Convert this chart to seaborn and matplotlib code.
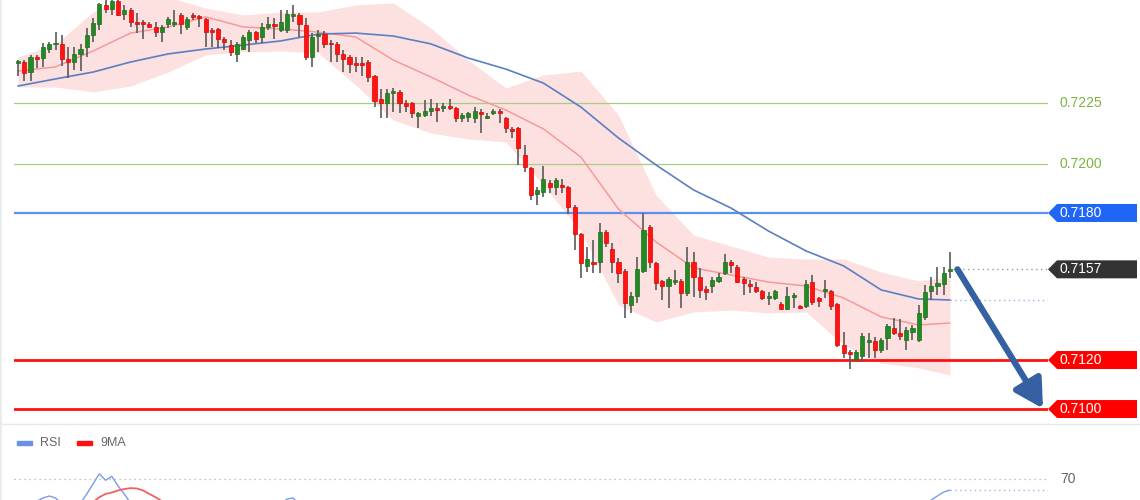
import matplotlib
matplotlib.use("Agg")
import matplotlib.pyplot as plt
import matplotlib.transforms as mtransforms
from matplotlib.patches import Polygon, Rectangle
from matplotlib.lines import Line2D
import seaborn as sns

# ---------------- candles (oldest first) ----------------
opens = [0.72412, 0.72416, 0.72375, 0.72436, 0.72432, 0.72469, 0.72489, 0.72489, 0.72428, 0.72416,
         0.72449, 0.72477, 0.72526, 0.72571, 0.72649, 0.72632, 0.72665, 0.72612, 0.72628, 0.72579,
         0.72579, 0.72571, 0.72559, 0.72538, 0.72571, 0.72571, 0.72608, 0.72559, 0.72608, 0.72600,
         0.72591, 0.72547, 0.72551, 0.72510, 0.72485, 0.72449, 0.72469, 0.72506, 0.72538, 0.72518,
         0.72559, 0.72571, 0.72547, 0.72547, 0.72604, 0.72608, 0.72567, 0.72436, 0.72522, 0.72530,
         0.72494, 0.72489, 0.72449, 0.72436, 0.72408, 0.72408, 0.72416, 0.72359, 0.72265, 0.72249,
         0.72290, 0.72294, 0.72249, 0.72249, 0.72196, 0.72200, 0.72216, 0.72228, 0.72228, 0.72237,
         0.72228, 0.72188, 0.72192, 0.72188, 0.72212, 0.72188, 0.72208, 0.72216, 0.72188, 0.72139,
         0.72147, 0.72037, 0.71984, 0.71877, 0.71886, 0.71922, 0.71906, 0.71914, 0.71906, 0.71824,
         0.71714, 0.71584, 0.71600, 0.71600, 0.71722, 0.71653, 0.71600, 0.71563, 0.71425, 0.71461,
         0.71563, 0.71743, 0.71596, 0.71523, 0.71502, 0.71518, 0.71523, 0.71474, 0.71600, 0.71539,
         0.71490, 0.71502, 0.71523, 0.71555, 0.71600, 0.71580, 0.71531, 0.71510, 0.71498, 0.71482,
         0.71453, 0.71453, 0.71429, 0.71408, 0.71457, 0.71421, 0.71421, 0.71518, 0.71453, 0.71482,
         0.71482, 0.71429, 0.71261, 0.71229, 0.71204, 0.71217, 0.71274, 0.71278, 0.71241, 0.71290,
         0.71331, 0.71310, 0.71282, 0.71314, 0.71282, 0.71376, 0.71482, 0.71502, 0.71510, 0.71563]
highs = [0.72424, 0.72424, 0.72445, 0.72445, 0.72494, 0.72498, 0.72538, 0.72526, 0.72477, 0.72477,
         0.72489, 0.72555, 0.72596, 0.72657, 0.72669, 0.72675, 0.72675, 0.72649, 0.72636, 0.72616,
         0.72587, 0.72579, 0.72579, 0.72567, 0.72600, 0.72628, 0.72616, 0.72600, 0.72616, 0.72608,
         0.72596, 0.72555, 0.72555, 0.72518, 0.72506, 0.72498, 0.72526, 0.72547, 0.72543, 0.72575,
         0.72600, 0.72596, 0.72628, 0.72628, 0.72649, 0.72616, 0.72596, 0.72534, 0.72547, 0.72543,
         0.72506, 0.72498, 0.72465, 0.72445, 0.72436, 0.72436, 0.72424, 0.72363, 0.72306, 0.72306,
         0.72310, 0.72302, 0.72261, 0.72253, 0.72212, 0.72261, 0.72265, 0.72249, 0.72249, 0.72265,
         0.72232, 0.72208, 0.72212, 0.72232, 0.72224, 0.72208, 0.72224, 0.72224, 0.72192, 0.72151,
         0.72151, 0.72077, 0.71988, 0.71906, 0.71992, 0.71935, 0.71943, 0.71939, 0.71910, 0.71833,
         0.71718, 0.71661, 0.71690, 0.71759, 0.71731, 0.71678, 0.71616, 0.71571, 0.71478, 0.71620,
         0.71800, 0.71751, 0.71600, 0.71527, 0.71539, 0.71567, 0.71531, 0.71661, 0.71641, 0.71576,
         0.71502, 0.71539, 0.71555, 0.71633, 0.71608, 0.71588, 0.71539, 0.71527, 0.71518, 0.71486,
         0.71478, 0.71486, 0.71437, 0.71498, 0.71474, 0.71425, 0.71527, 0.71547, 0.71457, 0.71527,
         0.71486, 0.71433, 0.71314, 0.71241, 0.71241, 0.71310, 0.71310, 0.71294, 0.71290, 0.71347,
         0.71372, 0.71367, 0.71335, 0.71343, 0.71425, 0.71506, 0.71539, 0.71580, 0.71580, 0.71641]
lows = [0.72359, 0.72339, 0.72339, 0.72392, 0.72396, 0.72453, 0.72465, 0.72400, 0.72351, 0.72383,
        0.72379, 0.72436, 0.72498, 0.72547, 0.72616, 0.72608, 0.72604, 0.72587, 0.72559, 0.72534,
        0.72510, 0.72555, 0.72518, 0.72498, 0.72555, 0.72559, 0.72530, 0.72547, 0.72587, 0.72559,
        0.72477, 0.72477, 0.72473, 0.72465, 0.72441, 0.72416, 0.72465, 0.72457, 0.72494, 0.72494,
        0.72547, 0.72510, 0.72538, 0.72534, 0.72579, 0.72518, 0.72424, 0.72396, 0.72457, 0.72473,
        0.72416, 0.72416, 0.72375, 0.72371, 0.72375, 0.72359, 0.72334, 0.72232, 0.72188, 0.72188,
        0.72212, 0.72208, 0.72212, 0.72188, 0.72147, 0.72192, 0.72196, 0.72171, 0.72212, 0.72220,
        0.72171, 0.72171, 0.72171, 0.72167, 0.72126, 0.72184, 0.72200, 0.72167, 0.72126, 0.72106,
        0.71996, 0.71967, 0.71853, 0.71833, 0.71865, 0.71882, 0.71873, 0.71882, 0.71796, 0.71649,
        0.71535, 0.71559, 0.71555, 0.71555, 0.71661, 0.71555, 0.71514, 0.71372, 0.71392, 0.71433,
        0.71555, 0.71576, 0.71486, 0.71445, 0.71412, 0.71506, 0.71412, 0.71461, 0.71457, 0.71453,
        0.71445, 0.71474, 0.71514, 0.71547, 0.71555, 0.71514, 0.71465, 0.71474, 0.71474, 0.71445,
        0.71425, 0.71445, 0.71404, 0.71404, 0.71412, 0.71408, 0.71412, 0.71425, 0.71416, 0.71453,
        0.71404, 0.71253, 0.71208, 0.71163, 0.71192, 0.71192, 0.71208, 0.71208, 0.71229, 0.71241,
        0.71302, 0.71282, 0.71241, 0.71282, 0.71274, 0.71363, 0.71445, 0.71465, 0.71465, 0.71535]
closes = [0.72420, 0.72371, 0.72436, 0.72428, 0.72477, 0.72489, 0.72494, 0.72428, 0.72416, 0.72449,
          0.72469, 0.72526, 0.72575, 0.72653, 0.72632, 0.72665, 0.72608, 0.72628, 0.72579, 0.72571,
          0.72571, 0.72559, 0.72538, 0.72559, 0.72591, 0.72579, 0.72571, 0.72591, 0.72600, 0.72596,
          0.72538, 0.72538, 0.72510, 0.72498, 0.72457, 0.72489, 0.72518, 0.72538, 0.72510, 0.72559,
          0.72571, 0.72563, 0.72579, 0.72612, 0.72612, 0.72571, 0.72436, 0.72518, 0.72530, 0.72489,
          0.72489, 0.72449, 0.72428, 0.72408, 0.72404, 0.72404, 0.72355, 0.72257, 0.72249, 0.72290,
          0.72298, 0.72249, 0.72237, 0.72208, 0.72208, 0.72216, 0.72228, 0.72220, 0.72237, 0.72228,
          0.72188, 0.72200, 0.72208, 0.72216, 0.72204, 0.72196, 0.72216, 0.72208, 0.72147, 0.72135,
          0.72065, 0.71988, 0.71873, 0.71894, 0.71939, 0.71906, 0.71935, 0.71906, 0.71824, 0.71714,
          0.71596, 0.71612, 0.71592, 0.71722, 0.71678, 0.71600, 0.71555, 0.71433, 0.71461, 0.71571,
          0.71731, 0.71600, 0.71514, 0.71502, 0.71531, 0.71527, 0.71474, 0.71600, 0.71539, 0.71486,
          0.71478, 0.71527, 0.71539, 0.71600, 0.71588, 0.71518, 0.71514, 0.71502, 0.71482, 0.71453,
          0.71461, 0.71482, 0.71408, 0.71461, 0.71461, 0.71412, 0.71510, 0.71437, 0.71441, 0.71490,
          0.71421, 0.71261, 0.71229, 0.71225, 0.71233, 0.71298, 0.71282, 0.71241, 0.71282, 0.71339,
          0.71310, 0.71298, 0.71323, 0.71331, 0.71392, 0.71478, 0.71502, 0.71514, 0.71555, 0.71571]

# ---------------- overlays, read every 6th bar ----------------
band_idx = [0, 6, 12, 18, 24, 30, 36, 42, 48, 54, 60, 66, 72, 78, 84, 90, 96, 102, 108, 114,
            120, 126, 132, 138, 144, 149]
ma_fast = [0.72379, 0.72396, 0.72461, 0.72534, 0.72559, 0.72600, 0.72559, 0.72551, 0.72538, 0.72518,
           0.72424, 0.72355, 0.72281, 0.72220, 0.72143, 0.72028, 0.71816, 0.71682, 0.71576, 0.71547,
           0.71518, 0.71502, 0.71453, 0.71376, 0.71343, 0.71351]
ma_slow = [0.72318, 0.72347, 0.72375, 0.72416, 0.72449, 0.72469, 0.72485, 0.72502, 0.72530, 0.72534,
           0.72522, 0.72490, 0.72432, 0.72387, 0.72330, 0.72232, 0.72106, 0.71996, 0.71894, 0.71820,
           0.71726, 0.71645, 0.71584, 0.71486, 0.71449, 0.71445]
band_upper = [0.72436, 0.72489, 0.72620, 0.72681, 0.72681, 0.72636, 0.72608, 0.72620, 0.72620, 0.72649,
              0.72657, 0.72555, 0.72424, 0.72310, 0.72363, 0.72379, 0.72200, 0.71873, 0.71710, 0.71665,
              0.71620, 0.71612, 0.71612, 0.71559, 0.71523, 0.71539]
band_lower = [0.72314, 0.72314, 0.72294, 0.72318, 0.72375, 0.72445, 0.72457, 0.72461, 0.72453, 0.72322,
              0.72180, 0.72126, 0.72102, 0.72090, 0.71914, 0.71722, 0.71425, 0.71355, 0.71396, 0.71404,
              0.71392, 0.71396, 0.71261, 0.71188, 0.71168, 0.71139]

# ---------------- levels ----------------
green_levels = [0.7225, 0.7200]
resist_level = 0.7180
support_levels = [0.7120, 0.7100]
last_price = 0.7157

# ---------------- RSI panel (visible part only) ----------------
rsi_idx = [0, 2, 3, 4, 5, 6, 7, 9, 10, 11, 12, 13, 14, 15, 16, 17, 18, 20,
           40, 42, 43, 44, 45, 47, 140, 145, 146, 147, 148, 149]
rsi_val = [50, 52, 53, 55.4, 56.9, 55.4, 51, 45, 51.5, 58.5, 66.2, 74, 69, 72, 64.6, 58.5, 51.5, 45,
           45, 50, 54.6, 55.4, 50, 45, 40, 50, 53.8, 57, 60, 61.5]
ma9_idx = [10, 12, 13, 14, 15, 16, 17, 18, 19, 20, 21, 22, 23, 25]
ma9_val = [45, 52.3, 56, 58.5, 59.6, 61.2, 62.3, 63, 62.7, 61.2, 58.5, 56, 53, 45]

sns.set_style("white")
plt.rcParams['font.family'] = ['Liberation Sans', 'DejaVu Sans']

W, H = 1140, 500
fig = plt.figure(figsize=(W / 100, H / 100), dpi=100)
fig.patch.set_facecolor("white")

# main price panel: x 14..1048 px, y 0..423 px
ax = fig.add_axes([14 / W, 1 - 423 / H, 1034 / W, 423 / H])
xmin, xmax = -0.64, 164.67
ymin, ymax = 0.70943, 0.72669
ax.set_xlim(xmin, xmax)
ax.set_ylim(ymin, ymax)
ax.axis("off")
px = (ymax - ymin) / 423  # price per pixel

# bollinger band + averages
ax.fill_between(band_idx, band_lower, band_upper, color="#fde0e0", lw=0, zorder=1)
sns.lineplot(x=band_idx, y=ma_fast, ax=ax, color="#f59a9a", lw=1.1, zorder=2)
sns.lineplot(x=band_idx, y=ma_slow, ax=ax, color="#5a7fc2", lw=1.2, zorder=2)

# horizontal levels
for lv in green_levels:
    ax.axhline(lv, color="#a5cf7f", lw=0.9, zorder=1)
ax.axhline(resist_level, color="#5b8ff0", lw=1.6, zorder=1)
for lv in support_levels:
    ax.axhline(lv, color="#ff1010", lw=2.0, zorder=1)
n = len(closes)
ax.plot([n - 0.5, xmax], [last_price, last_price], color="#999999", lw=1,
        ls=(0, (1, 2.5)), zorder=1)
ax.plot([n - 1, xmax], [ma_slow[-1], ma_slow[-1]], color="#9db3e0", lw=1,
        ls=(0, (1, 2.5)), zorder=1)

# candles
idx = list(range(n))
ax.vlines(idx, lows, highs, color="#5a5a5a", lw=1.2, zorder=3)
for i in idx:
    o, c = opens[i], closes[i]
    up = c >= o
    bottom = min(o, c)
    h = max(abs(c - o), 1.6 * px)
    ax.bar(i, h, bottom=bottom, width=0.66,
           color="#238a23" if up else "#ff1414",
           edgecolor="#1c6e1c" if up else "#e00000", lw=0.5, zorder=4)

# arrow towards the target
ax.annotate("", xy=(xmax - 0.8, support_levels[1] + 0.5 * px), xytext=(n + 0.2, last_price),
            arrowprops=dict(arrowstyle="-|>,head_length=1.7,head_width=0.95", lw=4.5,
                            color="#3561a3", mutation_scale=10, shrinkA=0, shrinkB=0),
            annotation_clip=False, zorder=6)

# right hand labels
tf = mtransforms.blended_transform_factory(fig.transFigure, ax.transData)


def tag(price, text, color):
    hh = 9 * px
    pts = [(1048 / W, price), (1057 / W, price + hh), (1137 / W, price + hh),
           (1137 / W, price - hh), (1057 / W, price - hh)]
    fig.add_artist(Polygon(pts, closed=True, transform=tf, facecolor=color,
                           edgecolor="none", clip_on=False))
    fig.text(1060 / W, price, text, transform=tf, color="white", fontsize=10,
             va="center", ha="left")


for lv in green_levels:
    fig.text(1060 / W, lv, f"{lv:.4f}", transform=tf, color="#7cb342", fontsize=10,
             va="center", ha="left")
tag(resist_level, f"{resist_level:.4f}", "#1f66f7")
tag(last_price, f"{last_price:.4f}", "#333333")
for lv in support_levels:
    tag(lv, f"{lv:.4f}", "#ff0000")

# RSI panel: y 425..500 px
rax = fig.add_axes([14 / W, 0, 1034 / W, 75 / H])
rax.set_xlim(xmin, xmax)
rax.set_ylim(53.85, 111.5)
rax.axis("off")
rax.plot([xmin, xmax], [70, 70], color="#b0b0b0", lw=0.9, ls=(0, (1, 3)))
sns.lineplot(x=rsi_idx, y=rsi_val, ax=rax, color="#7d9bec", lw=1.0)
sns.lineplot(x=ma9_idx, y=ma9_val, ax=rax, color="#f06060", lw=1.3)
rax.plot([n - 1, xmax], [rsi_val[-1], rsi_val[-1]], color="#9db3e8", lw=1,
         ls=(0, (1, 2.5)))
fig.text(1060 / W, 1 - 479 / H, "70", color="#666666", fontsize=10, va="center")

# legend of RSI panel
fig.add_artist(Rectangle((17 / W, 1 - 445 / H), 15 / W, 4 / H, color="#6d8fe6",
                         transform=fig.transFigure))
fig.text(40 / W, 1 - 443 / H, "RSI", color="#666666", fontsize=9, va="center")
fig.add_artist(Rectangle((77 / W, 1 - 445 / H), 15 / W, 4 / H, color="#ff1010",
                         transform=fig.transFigure))
fig.text(100 / W, 1 - 443 / H, "9MA", color="#666666", fontsize=9, va="center")

# panel separator and left border
fig.add_artist(Line2D([0, 1], [1 - 423.5 / H] * 2, color="#e4e9e9", lw=1,
                      transform=fig.transFigure))
fig.add_artist(Line2D([0.8 / W] * 2, [0, 1], color="#e4e9e9", lw=1.2,
                      transform=fig.transFigure))

fig.savefig("out.png", dpi=100, facecolor="white")
